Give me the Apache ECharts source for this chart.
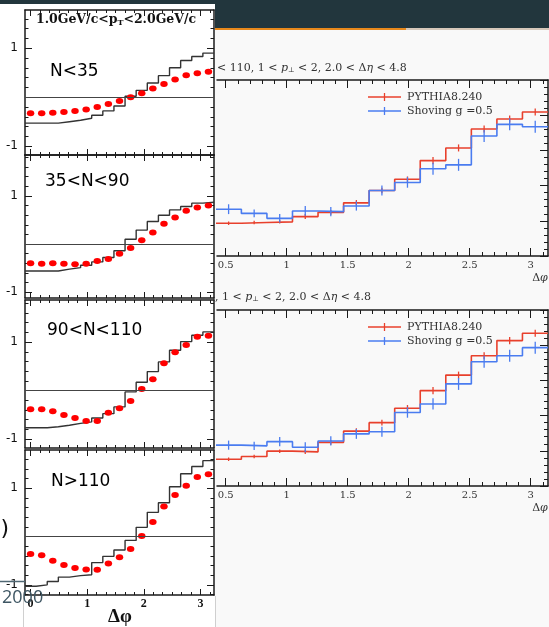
<!DOCTYPE html>
<html><head><meta charset="utf-8">
<script src="https://cdn.jsdelivr.net/npm/echarts@6/dist/echarts.min.js"></script>
<style>html,body{margin:0;padding:0;background:#fff}#c{width:549px;height:627px}</style>
</head><body><div id="c"></div>
<script>
// ================= DATA =================
// Left figure: 17 bins in delta-phi (centres k*pi/16), four multiplicity classes
const leftPanelLabels = ['N<35', '35<N<90', '90<N<110', 'N>110'];
const leftXTickLabels = [0, 1, 2, 3];
const leftYTickLabels = [-1, 1];
// red dots (data)
const dotsN35    = [-0.33,-0.33,-0.32,-0.30,-0.28,-0.25,-0.20,-0.14,-0.08,0.00,0.08,0.18,0.27,0.36,0.45,0.49,0.52];
const dotsN35_90 = [-0.40,-0.41,-0.40,-0.41,-0.42,-0.41,-0.35,-0.31,-0.20,-0.08,0.08,0.24,0.42,0.55,0.69,0.76,0.80];
const dotsN90_110= [-0.39,-0.39,-0.43,-0.51,-0.57,-0.63,-0.63,-0.46,-0.37,-0.22,0.03,0.23,0.56,0.79,0.94,1.11,1.13];
const dotsN110   = [-0.36,-0.39,-0.50,-0.59,-0.65,-0.68,-0.69,-0.56,-0.43,-0.26,0.01,0.30,0.62,0.86,1.05,1.23,1.29];
// black step histogram (model)
const histN35    = [-0.53,-0.53,-0.53,-0.50,-0.47,-0.43,-0.37,-0.28,-0.18,0.02,0.14,0.29,0.44,0.60,0.75,0.83,0.90];
const histN35_90 = [-0.56,-0.56,-0.56,-0.52,-0.49,-0.44,-0.37,-0.28,-0.14,0.10,0.29,0.47,0.60,0.71,0.78,0.85,0.87];
const histN90_110= [-0.77,-0.77,-0.75,-0.72,-0.68,-0.65,-0.57,-0.48,-0.34,-0.03,0.17,0.39,0.59,0.83,1.01,1.14,1.21];
const histN110   = [-1.03,-1.00,-0.93,-0.84,-0.81,-0.79,-0.54,-0.41,-0.28,-0.08,0.19,0.50,0.70,1.03,1.30,1.45,1.57];

// Right figure: bins of width pi/15, visible bins 2..14
const rightSeriesNames = ['PYTHIA8.240', 'Shoving g =0.5'];
const rightXTickLabels = [0.5, 1, 1.5, 2, 2.5, 3];
const rightFirstBin = 2;
const pythiaTop   = [0.93,0.95,0.97,1.12,1.24,1.51,1.86,2.18,2.71,3.07,3.61,3.89,4.09];
const shovingTop  = [1.33,1.21,1.07,1.28,1.26,1.42,1.86,2.09,2.48,2.59,3.41,3.74,3.67];
const pythiaTopErr  = [0.05,0.05,0.05,0.07,0.07,0.08,0.08,0.08,0.10,0.10,0.10,0.10,0.10];
const shovingTopErr = [0.14,0.11,0.12,0.14,0.13,0.13,0.14,0.15,0.17,0.17,0.17,0.17,0.17];
const pythiaBot   = [0.76,0.84,0.99,0.97,1.24,1.56,1.80,2.21,2.71,3.15,3.70,4.13,4.34];
const shovingBot  = [1.16,1.14,1.26,1.10,1.28,1.48,1.54,2.09,2.33,2.90,3.53,3.70,3.93];
const pythiaBotErr  = [0.05,0.05,0.05,0.06,0.07,0.08,0.08,0.09,0.10,0.10,0.10,0.10,0.10];
const shovingBotErr = [0.13,0.12,0.13,0.14,0.13,0.14,0.14,0.15,0.16,0.17,0.17,0.17,0.17];

// ================= BUILD =================
const PI = Math.PI;
const LW = PI / 16, LX0 = -LW / 2, LX1 = PI + LW / 2;
const RW = PI / 15;
const leftDots = [dotsN35, dotsN35_90, dotsN90_110, dotsN110];
const leftHists = [histN35, histN35_90, histN90_110, histN110];
const leftLayout = [
  {top: 10,  bottom: 155, min: -1.18, max: 1.78, label: [50, 72]},
  {top: 155, bottom: 298, min: -1.12, max: 1.85, label: [45, 182]},
  {top: 300, bottom: 448, min: -1.19, max: 1.87, label: [47, 331]},
  {top: 450, bottom: 595, min: -1.21, max: 1.79, label: [51, 482]}
];
const rightLayout = [
  {top: 80, height: 176, legendY: 97, title: '{n|< 110, 1 < }{i|p}{s|⊥}{n| < 2, 2.0 < Δ}{i|η}{n| < 4.8}', titleX: 217, titleY: 68},
  {top: 310, height: 176, legendY: 327, title: '{n|, 1 < }{i|p}{s|⊥}{n| < 2, 2.0 < Δ}{i|η}{n| < 4.8}', titleX: 215, titleY: 297}
];
const RGL = 217, RGW = 331, RX1 = PI, RX0 = PI - RGW / 122;

function histPoints(vals, x0, w) {
  const pts = vals.map((v, i) => [x0 + i * w, v]);
  pts.push([x0 + vals.length * w, vals[vals.length - 1]]);
  return pts;
}
function range(a, b, step) { const out = []; for (let j = Math.ceil(a / step - 1e-9); j * step <= b + 1e-9; j++) out.push(Math.round(j * step * 1000) / 1000); return out; }

const grid = [], xAxis = [], yAxis = [], series = [];
const frameColor = '#1a1a1a';
function xAx(gi, pos, min, max, vals, len, line, label) {
  return {type: 'value', gridIndex: gi, position: pos, min: min, max: max,
    axisLine: {show: line, onZero: false, lineStyle: {color: frameColor, width: 1.5}},
    axisTick: {show: true, inside: true, length: len, customValues: vals, lineStyle: {color: frameColor, width: 1}},
    axisLabel: label || {show: false}, splitLine: {show: false}};
}
function yAx(gi, pos, min, max, vals, len, line, label) {
  return {type: 'value', gridIndex: gi, position: pos, min: min, max: max,
    axisLine: {show: line, onZero: false, lineStyle: {color: frameColor, width: 1.5}},
    axisTick: {show: true, inside: true, length: len, customValues: vals, lineStyle: {color: frameColor, width: 1}},
    axisLabel: label || {show: false}, splitLine: {show: false}};
}
const leftXMinor = range(0, LX1, 1 / 6);

leftLayout.forEach((L, gi) => {
  grid.push({left: 25, width: 189, top: L.top, height: L.bottom - L.top});
  const xi = xAxis.length, yi = yAxis.length;
  const xlab = gi === 3 ? {show: true, customValues: leftXTickLabels, fontFamily: 'Liberation Serif', fontWeight: 'bold', fontSize: 12, color: '#111', margin: 3} : null;
  xAxis.push(xAx(gi, 'bottom', LX0, LX1, leftXTickLabels, 6, true, xlab));
  xAxis.push(xAx(gi, 'bottom', LX0, LX1, leftXMinor, 3, false));
  xAxis.push(xAx(gi, 'top', LX0, LX1, leftXTickLabels, 6, true));
  xAxis.push(xAx(gi, 'top', LX0, LX1, leftXMinor, 3, false));
  const yMinor = range(L.min, L.max, 0.2);
  yAxis.push(yAx(gi, 'left', L.min, L.max, [-1, 0, 1], 7, true,
    {show: true, customValues: leftYTickLabels, fontFamily: 'DejaVu Sans', fontSize: 12, color: '#111', margin: 7}));
  yAxis.push(yAx(gi, 'left', L.min, L.max, yMinor, 3.5, false));
  yAxis.push(yAx(gi, 'right', L.min, L.max, [-1, 0, 1], 7, true));
  yAxis.push(yAx(gi, 'right', L.min, L.max, yMinor, 3.5, false));
  series.push({type: 'line', xAxisIndex: xi, yAxisIndex: yi, step: 'end', symbol: 'none',
    data: histPoints(leftHists[gi], LX0, LW), lineStyle: {color: '#333333', width: 1.4}, z: 3,
    markLine: {silent: true, symbol: 'none', label: {show: false}, lineStyle: {color: '#444444', width: 1.2, type: 'solid'}, data: [{yAxis: 0}]}});
  series.push({type: 'scatter', xAxisIndex: xi, yAxisIndex: yi, symbol: 'circle', symbolSize: [7.5, 6],
    data: leftDots[gi].map((v, k) => [k * LW, v]), itemStyle: {color: '#ff0000', opacity: 1}, z: 4});
});

function errRender(color) {
  return function (params, api) {
    const x = api.value(0), y = api.value(1), e = api.value(2);
    const p1 = api.coord([x, y - e]), p2 = api.coord([x, y + e]);
    return {type: 'line', shape: {x1: p1[0], y1: p1[1], x2: p2[0], y2: p2[1]}, style: {stroke: color, lineWidth: 1.3}};
  };
}
const RED = '#e8402c', BLUE = '#4a7cf0';
const rightData = [[pythiaTop, shovingTop, pythiaTopErr, shovingTopErr], [pythiaBot, shovingBot, pythiaBotErr, shovingBotErr]];
const rightXMinor = range(0.5, RX1, 0.1);
rightLayout.forEach((R, k) => {
  const gi = grid.length;
  grid.push({left: RGL, width: RGW, top: R.top, height: R.height});
  const xi = xAxis.length, yi = yAxis.length;
  xAxis.push(xAx(gi, 'bottom', RX0, RX1, rightXTickLabels, 8, true,
    {show: true, customValues: rightXTickLabels, fontFamily: 'DejaVu Serif', fontSize: 10, color: '#333', margin: 4}));
  xAxis.push(xAx(gi, 'bottom', RX0, RX1, rightXMinor, 4, false));
  xAxis.push(xAx(gi, 'top', RX0, RX1, rightXTickLabels, 8, true));
  xAxis.push(xAx(gi, 'top', RX0, RX1, rightXMinor, 4, false));
  yAxis.push({type: 'value', gridIndex: gi, position: 'right', min: 0, max: 5, interval: 1,
    axisLine: {show: true, onZero: false, lineStyle: {color: frameColor, width: 1.5}},
    axisTick: {show: true, inside: true, length: 8, lineStyle: {color: frameColor}},
    minorTick: {show: true, splitNumber: 5, length: 4, lineStyle: {color: frameColor}},
    axisLabel: {show: false}, splitLine: {show: false}});
  const [red, blue, rerr, berr] = rightData[k];
  const x0 = rightFirstBin * RW;
  series.push({type: 'line', name: rightSeriesNames[0], xAxisIndex: xi, yAxisIndex: yi, step: 'end', symbol: 'none',
    data: histPoints(red, x0, RW), lineStyle: {color: RED, width: 1.6}, itemStyle: {color: RED}, z: 3});
  series.push({type: 'custom', xAxisIndex: xi, yAxisIndex: yi, renderItem: errRender(RED),
    data: red.map((v, i) => [x0 + (i + 0.5) * RW, v, rerr[i]]), z: 3});
  series.push({type: 'line', name: rightSeriesNames[1], xAxisIndex: xi, yAxisIndex: yi, step: 'end', symbol: 'none',
    data: histPoints(blue, x0, RW), lineStyle: {color: BLUE, width: 1.6}, itemStyle: {color: BLUE}, z: 4});
  series.push({type: 'custom', xAxisIndex: xi, yAxisIndex: yi, renderItem: errRender(BLUE),
    data: blue.map((v, i) => [x0 + (i + 0.5) * RW, v, berr[i]]), z: 4});
});

// ================= DECORATION (slide / text) =================
const serifRich = {
  n: {fontFamily: 'DejaVu Serif', fontSize: 11, fill: '#333'},
  i: {fontFamily: 'DejaVu Serif', fontSize: 11, fontStyle: 'italic', fill: '#333'},
  s: {fontFamily: 'DejaVu Serif', fontSize: 7, fill: '#333', padding: [4, 0, 0, 0]}
};
const graphic = [
  {type: 'rect', z: -10, shape: {x: 0, y: 0, width: 549, height: 28}, style: {fill: '#22363d'}},
  {type: 'rect', z: -10, shape: {x: 215, y: 28, width: 191, height: 2}, style: {fill: '#e8891c'}},
  {type: 'rect', z: -10, shape: {x: 406, y: 28, width: 143, height: 2}, style: {fill: '#d6c8ba'}},
  {type: 'rect', z: -9, shape: {x: 0, y: 4, width: 215, height: 623}, style: {fill: '#ffffff'}},
  {type: 'rect', z: -9, shape: {x: 215, y: 30, width: 334, height: 597}, style: {fill: '#f9f9f9'}},
  {type: 'line', z: -8, shape: {x1: 215.5, y1: 596, x2: 215.5, y2: 627}, style: {stroke: '#cfcfcf', lineWidth: 1}},
  {type: 'line', z: -8, shape: {x1: 23.5, y1: 592, x2: 23.5, y2: 627}, style: {stroke: '#d0d0d0', lineWidth: 1}},
  {type: 'line', z: 20, shape: {x1: 0, y1: 581.5, x2: 25, y2: 581.5}, style: {stroke: '#506874', lineWidth: 1.5}},
  {type: 'text', z: 20, x: 36, y: 20, style: {text: '{b|1.0GeV/c<p}{s|T}{b|<2.0GeV/c}', verticalAlign: 'middle',
    rich: {b: {fontFamily: 'DejaVu Serif', fontWeight: 'bold', fontSize: 12.5, fill: '#111'},
           s: {fontFamily: 'DejaVu Serif', fontWeight: 'bold', fontSize: 8, fill: '#111', padding: [5, 0, 0, 0]}}}},
  {type: 'text', z: 20, x: 120, y: 617, style: {text: 'Δφ', align: 'center', verticalAlign: 'middle', fontFamily: 'Liberation Serif', fontWeight: 'bold', fontSize: 19, fill: '#111'}},
  {type: 'text', z: 21, x: 2, y: 598, style: {text: '2000', verticalAlign: 'middle', fontFamily: 'Open Sans', fontSize: 18, fill: '#3e5663'}},
  {type: 'text', z: 20, x: 9, y: 529, style: {text: ')', align: 'right', verticalAlign: 'middle', fontFamily: 'DejaVu Sans', fontSize: 22, fill: '#111'}}
];
leftLayout.forEach((L, gi) => {
  graphic.push({type: 'text', z: 20, x: L.label[0], y: L.label[1], style: {text: leftPanelLabels[gi], verticalAlign: 'middle', fontFamily: 'DejaVu Sans', fontSize: 17, fill: '#000'}});
});
rightLayout.forEach((R) => {
  graphic.push({type: 'text', z: 20, x: R.titleX, y: R.titleY, style: {text: R.title, verticalAlign: 'middle', rich: serifRich}});
  graphic.push({type: 'text', z: 20, x: 540, y: R.top + R.height + 22, style: {text: '{n|Δ}{i|φ}', align: 'center', verticalAlign: 'middle', rich: serifRich}});
  [[RED, 0], [BLUE, 1]].forEach(([c, j]) => {
    const y = R.legendY + j * 14;
    graphic.push({type: 'line', z: 20, shape: {x1: 368, y1: y, x2: 401, y2: y}, style: {stroke: c, lineWidth: 1.5}});
    graphic.push({type: 'line', z: 20, shape: {x1: 384.5, y1: y - 4, x2: 384.5, y2: y + 4}, style: {stroke: c, lineWidth: 1.3}});
    graphic.push({type: 'text', z: 20, x: 407, y: y, style: {text: rightSeriesNames[j], verticalAlign: 'middle', fontFamily: 'DejaVu Serif', fontSize: 11, fill: '#333'}});
  });
});

const chart = echarts.init(document.getElementById('c'), null, {renderer: 'canvas'});
chart.setOption({animation: false, backgroundColor: '#ffffff', grid, xAxis, yAxis, series, graphic});
</script></body></html>
